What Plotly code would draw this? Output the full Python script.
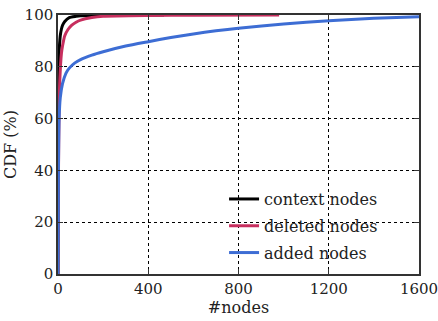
import plotly.graph_objects as go

# Data
context_x = [0, 1, 2, 3, 5, 8, 10, 15, 20, 30, 50, 80, 100, 200, 300, 470]
context_y = [0, 40, 65, 78, 86, 90, 92, 94.5, 96, 97.5, 99, 99.5, 99.7, 99.9, 100, 100]

deleted_x = [0, 1, 3, 5, 8, 15, 20, 30, 45, 60, 80, 100, 150, 200, 400, 600, 980]
deleted_y = [0, 25, 50, 65, 75, 85, 88, 92, 94.5, 96, 97.2, 98, 99, 99.5, 99.8, 99.9, 100]

added_x = [0, 1, 2, 5, 10, 20, 35, 50, 75, 100, 150, 200, 300, 400, 500, 600, 700,
           800, 1000, 1200, 1400, 1600]
added_y = [0, 20, 40, 60, 68, 73.5, 77.5, 79.5, 81.5, 82.8, 84.5, 85.8, 88, 89.7,
           91.3, 92.7, 93.9, 94.9, 96.5, 97.8, 98.7, 99.3]

x_ticks = [0, 400, 800, 1200, 1600]
y_ticks = [0, 20, 40, 60, 80, 100]

FONT = "DejaVu Serif"

fig = go.Figure()
fig.add_trace(go.Scatter(x=context_x, y=context_y, mode="lines", name="context nodes",
                         legendgroup="a",
                         line=dict(color="#000000", width=3, shape="spline", smoothing=0.6)))
fig.add_trace(go.Scatter(x=deleted_x, y=deleted_y, mode="lines", name="deleted nodes",
                         legendgroup="b",
                         line=dict(color="#C72E5E", width=3, shape="spline", smoothing=0.6)))
fig.add_trace(go.Scatter(x=added_x, y=added_y, mode="lines", name="added nodes",
                         legendgroup="c",
                         line=dict(color="#3D6DD4", width=3, shape="spline", smoothing=0.6)))

axis_common = dict(
    showline=True, linecolor="#333333", linewidth=1.5, mirror="ticks",
    ticks="inside", ticklen=5, tickcolor="#333333",
    showgrid=True, gridcolor="#000000", griddash="dot", gridwidth=1,
    zeroline=False, automargin=False, ticklabeloverflow="allow",
    tickfont=dict(family=FONT, size=15, color="#222222"),
)

fig.update_layout(
    width=438, height=321,
    margin=dict(l=58, r=19, t=15, b=47),
    paper_bgcolor="white", plot_bgcolor="white",
    font=dict(family=FONT, size=15, color="#222222"),
    xaxis=dict(range=[0, 1600], tickvals=x_ticks,
               title=dict(text="#nodes", standoff=3, font=dict(family=FONT, size=16)),
               **axis_common),
    yaxis=dict(range=[0, 100], tickvals=y_ticks,
               title=dict(text="CDF (%)", standoff=4, font=dict(family=FONT, size=16)),
               **axis_common),
    legend=dict(x=0.46, y=0.355, xanchor="left", yanchor="top",
                bgcolor="rgba(255,255,255,0)", font=dict(family=FONT, size=16),
                traceorder="grouped", tracegroupgap=3),
    showlegend=True,
)

fig.write_html("out.html", post_script="document.body.style.margin='0';",
               config={"displayModeBar": False})
